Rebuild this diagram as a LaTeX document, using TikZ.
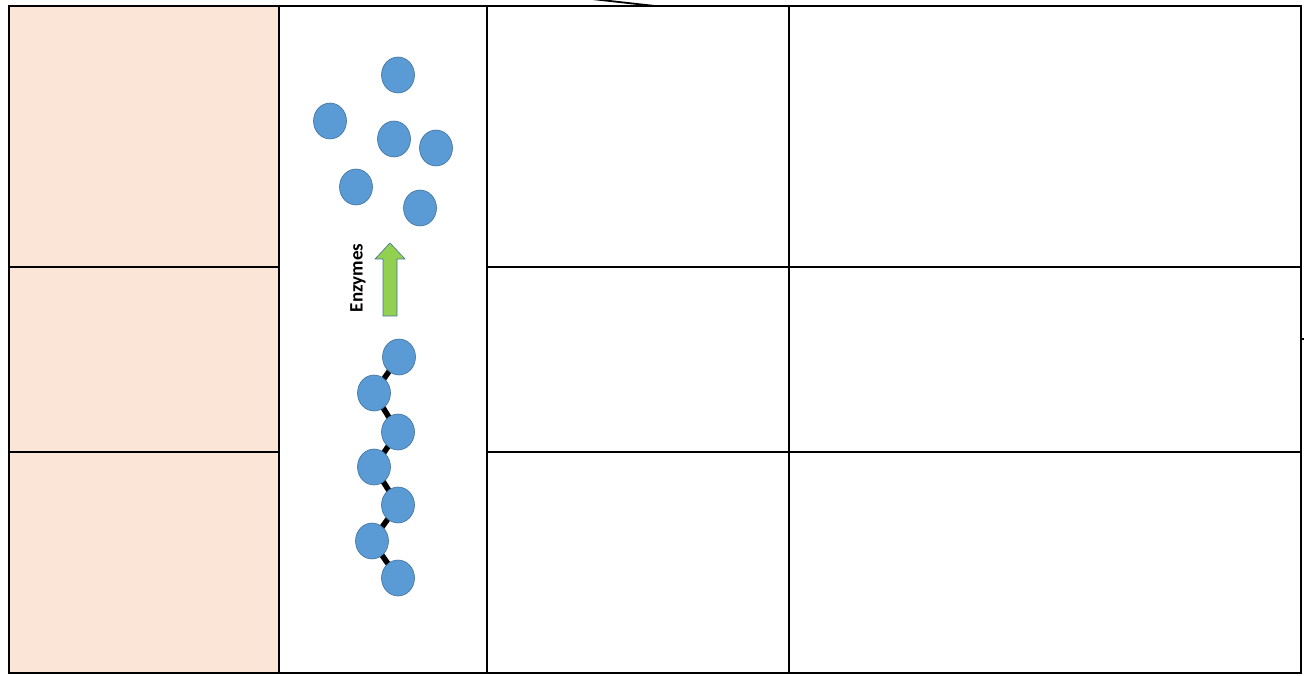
\documentclass[tikz,border=0pt]{standalone}
\usepackage{fontspec}
\setmainfont{Carlito}
\usetikzlibrary{shapes.geometric}
\definecolor{peach}{HTML}{FBE5D6}
\definecolor{ballfill}{HTML}{5B9BD5}
\definecolor{balledge}{HTML}{41719C}
\definecolor{arrowgreen}{HTML}{92D050}
\tikzset{
  grid/.style={line width=2.4pt, black},
  ball/.style={ellipse, fill=ballfill, draw=balledge, line width=0.6pt, minimum width=33pt, minimum height=36pt, inner sep=0pt},
  bond/.style={line width=5.5pt, black},
  fatarrow/.style={fill=arrowgreen, draw=balledge, line width=0.6pt},
}
\begin{document}
\begin{tikzpicture}[x=1pt,y=-1pt]
\useasboundingbox (0,0) rectangle (1304,676);
\fill[peach] (9,6) rectangle (279,673);
% grid
\draw[grid] (9,6) rectangle (1301,673);
\draw[grid] (279,6) -- (279,673);
\draw[grid] (487,6) -- (487,673);
\draw[grid] (789,6) -- (789,673);
\draw[grid] (9,267) -- (279,267);
\draw[grid] (9,452) -- (279,452);
\draw[grid] (487,267) -- (1301,267);
\draw[grid] (487,452) -- (1301,452);
\coordinate (t1) at (592,-1);
\coordinate (t2) at (655,6);
\draw[line width=1.8pt] (t1) -- (t2);
\coordinate (r1) at (1301,339);
\coordinate (r2) at (1305,339);
\draw[line width=1.8pt] (r1) -- (r2);
% free monomers
\node[ball] (f1) at (398,75) {};
\node[ball] (f2) at (330,121) {};
\node[ball] (f3) at (394,139) {};
\node[ball] (f4) at (436,148) {};
\node[ball] (f5) at (356,187) {};
\node[ball] (f6) at (420,208) {};
% chain
\coordinate (c1) at (399,357);
\coordinate (c2) at (374,393);
\coordinate (c3) at (398,432);
\coordinate (c4) at (374,467);
\coordinate (c5) at (398,505);
\coordinate (c6) at (372,541);
\coordinate (c7) at (398,578);
\draw[bond] (c1) -- (c2) -- (c3) -- (c4) -- (c5) -- (c6) -- (c7);
\foreach \i in {1,...,7} \node[ball] (b\i) at (c\i) {};
% arrow
\draw[fatarrow] (383,316) -- (383,259) -- (375,259) -- (390,243) -- (405,259) -- (397,259) -- (397,316) -- cycle;
\node[rotate=90, font=\bfseries\fontsize{19}{21}\selectfont, inner sep=0pt] (enz) at (358,278) {Enzymes};
\end{tikzpicture}
\end{document}
